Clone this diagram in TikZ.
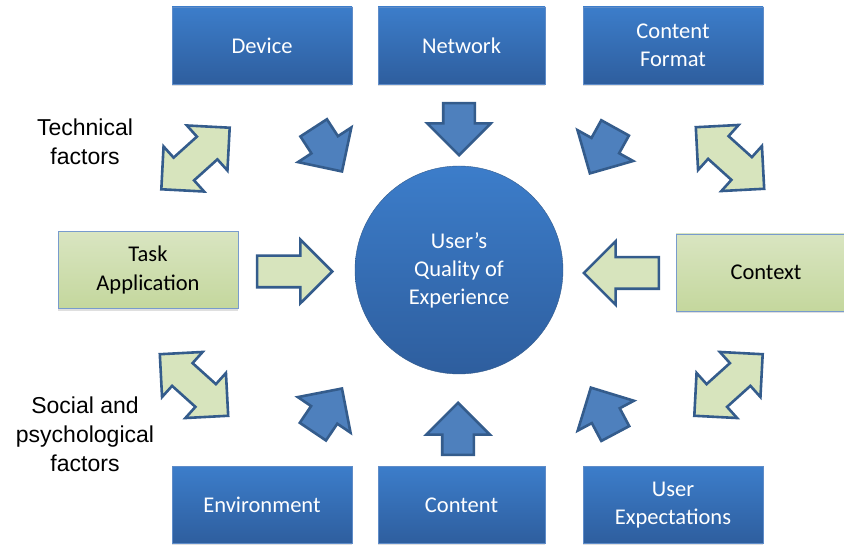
\documentclass[tikz,border=0pt]{standalone}
\usepackage{fontspec}
\setmainfont{Carlito}
\newfontfamily\labelfont{Liberation Sans}
\usetikzlibrary{shapes.arrows, shadows, positioning}
\definecolor{boxtop}{RGB}{60,125,202}
\definecolor{boxbottom}{RGB}{46,94,158}
\definecolor{boxline}{RGB}{95,140,200}
\definecolor{greentop}{RGB}{217,229,193}
\definecolor{greenbottom}{RGB}{196,215,157}
\definecolor{greenline}{RGB}{120,155,205}
\definecolor{arrowfill}{RGB}{78,128,189}
\definecolor{arrowline}{RGB}{52,92,140}
\definecolor{pale}{RGB}{215,228,189}
\tikzset{
x=1pt, y=-1pt, % work in pixels of the picture, downwards
factor/.style={rectangle, draw=boxline, top color=boxtop, bottom color=boxbottom, text=white, minimum width=180pt, minimum height=77pt, align=center, font=\fontsize{22.5}{28.5}\selectfont, drop shadow={shadow xshift=0pt, shadow yshift=-2.5pt, opacity=0.25}}, % blue factor boxes
usage/.style={factor, draw=greenline, top color=greentop, bottom color=greenbottom, text=black}, % green boxes
pushin/.style={single arrow, draw=arrowline, fill=arrowfill, line width=2.6pt, inner xsep=0pt, inner ysep=14.5pt, single arrow head extend=16pt, single arrow tip angle=90, minimum height=52pt, anchor=tip}, % blue arrows into the circle, placed by their tips
pushgreen/.style={pushin, fill=pale, minimum height=75pt}, % green arrows into the circle
twoway/.style={double arrow, draw=arrowline, fill=pale, line width=2.6pt, inner xsep=0pt, inner ysep=14pt, double arrow head extend=15pt, double arrow tip angle=90, minimum height=92pt}, % green double arrows
side/.style={align=center, font=\labelfont\fontsize{23}{29}\selectfont} % side labels
}

\begin{document}
\begin{tikzpicture}
      \clip (0,0) rectangle (844,545);
      \fill[white] (0,0) rectangle (844,545);

      % middle
      \node[circle, draw=arrowline, top color=boxtop, bottom color=boxbottom, text=white, minimum size=208pt, align=center, font=\fontsize{22.5}{28}\selectfont] (qoe) at (459,270) {User’s\\Quality of\\Experience};

      % technical factors
      \node[factor] (device) at (262,45.5) {Device};
      \node[factor, minimum width=167pt] (network) at (461.5,45.5) {Network};
      \node[factor] (format) at (673,45.5) {Content\\Format};

      % social and psychological factors
      \node[factor] (environment) at (262,505) {Environment};
      \node[factor, minimum width=167pt] (content) at (461.5,505) {Content};
      \node[factor] (expect) at (673,505) {User\\Expectations};

      \node[usage] (task) at (148,270) {Task\\Application};
      \node[usage] (context) at (766,272.5) {Context};

      \node[pushin, rotate=-90] (inN) at (459,157) {};
      \node[pushin, rotate=90] (inC) at (458,401) {};
      \node[pushin, rotate=-57] (inD) at (343,173) {};
      \node[pushin, rotate=-119] (inF) at (589,175) {};
      \node[pushin, rotate=56] (inE) at (343,387) {};
      \node[pushin, rotate=118] (inU) at (590,386) {};
      \node[pushgreen] (inT) at (334,271.5) {};
      \node[pushgreen, rotate=180] (inX) at (582,273) {};

      \node[twoway, rotate=42] (tw1) at (195.5,158.5) {};
      \node[twoway, rotate=-42] (tw2) at (730,158) {};
      \node[twoway, rotate=-42] (tw3) at (194,385) {};
      \node[twoway, rotate=42] (tw4) at (728.5,385) {};

      \node[side] (tech) at (85,142) {Technical\\factors};
      \node[side] (social) at (85,434) {Social and\\psychological\\factors};
    \end{tikzpicture}
\end{document}
